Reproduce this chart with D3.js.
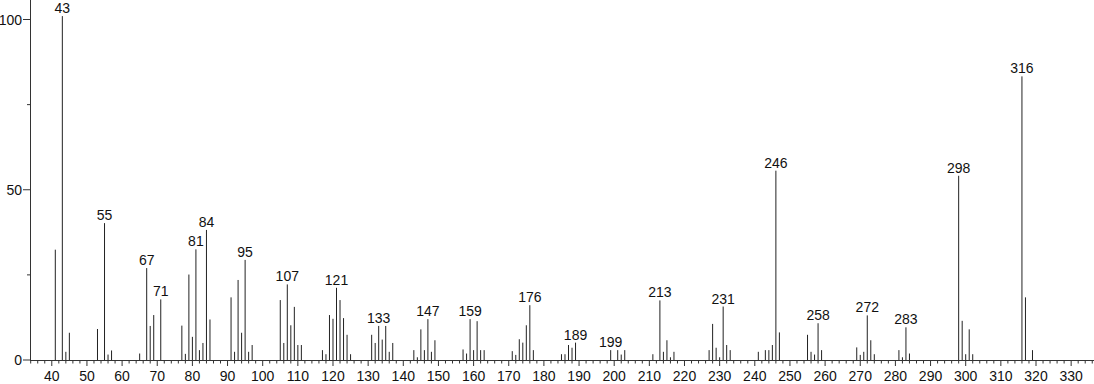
<!DOCTYPE html>
<html>
<head>
<meta charset="utf-8">
<script src="https://cdn.jsdelivr.net/npm/d3@7"></script>
<style>
  html, body { margin: 0; padding: 0; background: #fff; }
  svg { display: block; }
  text { font-family: "Liberation Sans", Arial, sans-serif; fill: #111; }
</style>
</head>
<body>
<svg id="chart" width="1094" height="384"></svg>
<script>
const mz = [41,43,44,45,53,55,56,57,65,67,68,69,71,77,78,79,80,81,82,83,84,85,
  91,92,93,94,95,96,97,105,106,107,108,109,110,111,117,118,119,120,121,122,123,124,125,
  131,132,133,134,135,136,137,143,144,145,146,147,148,149,157,158,159,160,161,162,163,
  171,172,173,174,175,176,177,185,186,187,188,189,199,201,202,203,211,213,214,215,216,217,
  227,228,229,230,231,232,233,241,243,244,245,246,247,255,256,257,258,259,
  269,270,271,272,273,274,281,282,283,284,298,299,300,301,302,316,317,319];
const intensity = [32.4,101,2.4,8.0,9.1,40.2,1.6,2.8,1.9,27.0,10.0,13.2,17.8,10.1,1.8,25.1,6.8,32.5,2.9,5.0,38.2,11.9,
  18.4,2.4,23.5,8.0,29.4,2.4,4.4,17.6,5.0,22.2,10.2,15.6,4.4,4.4,2.9,1.7,13.2,12.1,21.2,17.6,12.3,7.4,1.7,
  7.4,5.0,10.0,6.0,10.0,2.4,5.0,2.9,0.8,9.0,2.9,12.0,2.4,5.8,3.1,1.9,12.0,2.9,11.4,2.9,2.9,
  2.6,1.5,6.1,5.1,10.2,16.1,2.9,1.7,1.7,4.4,3.6,5.1,2.9,2.9,1.6,2.9,1.7,17.5,2.4,5.8,0.8,2.4,
  2.9,10.6,3.6,0.8,15.7,4.4,2.9,2.4,2.9,2.9,4.4,55.6,8.1,7.4,2.4,1.6,10.8,2.9,
  3.7,1.5,2.4,13.1,5.8,1.7,2.9,0.8,9.6,1.9,54.1,11.5,1.7,9.0,1.7,83.3,18.4,2.9];
const labeledPeaks = [43,55,67,71,81,84,95,107,121,133,147,159,176,189,199,213,231,246,258,272,283,298,316];
const xMajorTicks = d3.range(40, 331, 10);
const xMinorTicks = d3.range(34, 337, 2);
const yMajorTicks = [0, 50, 100];
const yMinorTicks = [25, 75];

const data = mz.map((m, i) => ({ mz: m, v: intensity[i] }));

const svg = d3.select("#chart");
const x = d3.scaleLinear().domain([33.8, 336.5]).range([30, 1094]);
const y = d3.scaleLinear().domain([0, 100]).range([360, 19.5]);

const axisColor = "#333";
const fs = "14px";

// x axis line and ticks
const gx = svg.append("g");
gx.append("line").attr("x1", 30).attr("x2", 1094).attr("y1", 360.5).attr("y2", 360.5)
  .attr("stroke", axisColor).attr("stroke-width", 1);
gx.selectAll("line.minor").data(xMinorTicks.filter(t => t % 10 !== 0)).enter().append("line")
  .attr("class", "minor")
  .attr("x1", d => x(d)).attr("x2", d => x(d)).attr("y1", 360).attr("y2", 363.5)
  .attr("stroke", axisColor);
gx.selectAll("line.major").data(xMajorTicks).enter().append("line")
  .attr("class", "major")
  .attr("x1", d => x(d)).attr("x2", d => x(d)).attr("y1", 360).attr("y2", 366)
  .attr("stroke", axisColor);
gx.selectAll("text").data(xMajorTicks).enter().append("text")
  .attr("x", d => x(d)).attr("y", 381).attr("text-anchor", "middle")
  .attr("font-size", fs).text(d => d);

// y axis
const gy = svg.append("g");
gy.append("line").attr("x1", 30.5).attr("x2", 30.5).attr("y1", 0).attr("y2", 361)
  .attr("stroke", axisColor);
gy.selectAll("line.major").data(yMajorTicks).enter().append("line")
  .attr("x1", 23).attr("x2", 30).attr("y1", d => y(d)).attr("y2", d => y(d))
  .attr("stroke", axisColor);
gy.selectAll("line.minor").data(yMinorTicks).enter().append("line")
  .attr("x1", 27).attr("x2", 30).attr("y1", d => y(d)).attr("y2", d => y(d))
  .attr("stroke", axisColor);
gy.selectAll("text").data(yMajorTicks).enter().append("text")
  .attr("x", 22).attr("y", d => y(d) + 5).attr("text-anchor", "end")
  .attr("font-size", fs).text(d => d);

// bars
svg.append("g").selectAll("line").data(data).enter().append("line")
  .attr("x1", d => x(d.mz)).attr("x2", d => x(d.mz))
  .attr("y1", y(0)).attr("y2", d => y(d.v))
  .attr("stroke", "#222").attr("stroke-width", 1);

// peak labels
svg.append("g").selectAll("text").data(data.filter(d => labeledPeaks.includes(d.mz))).enter().append("text")
  .attr("x", d => x(d.mz)).attr("y", d => y(d.v) - 3)
  .attr("text-anchor", "middle").attr("font-size", fs).text(d => d.mz);
</script>
</body>
</html>
